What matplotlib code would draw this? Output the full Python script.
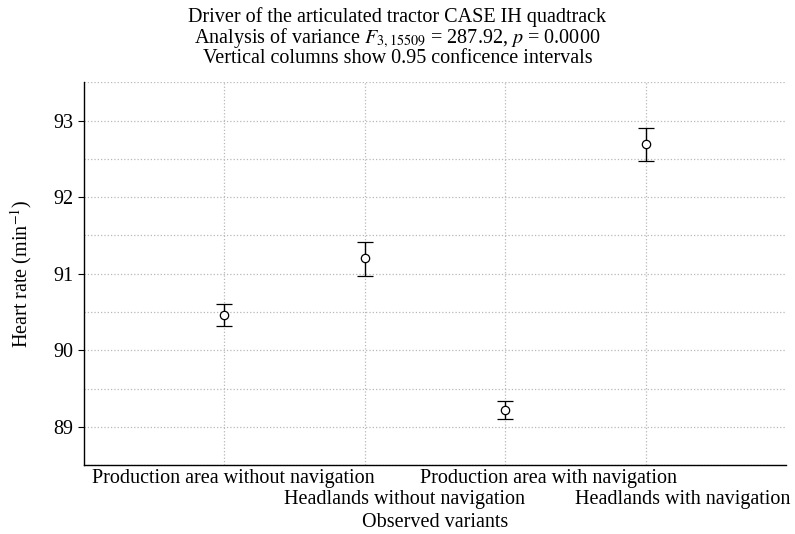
import matplotlib.pyplot as plt
import matplotlib.transforms as mtransforms
import numpy as np

# data
variants = ["Production area without navigation", "Headlands without navigation",
            "Production area with navigation", "Headlands with navigation"]
mean_hr = [90.46, 91.20, 89.22, 92.69]
ci_low = [90.32, 90.97, 89.10, 92.47]
ci_high = [90.60, 91.42, 89.34, 92.90]

plt.rcParams["font.family"] = ["Liberation Serif", "DejaVu Serif"]
plt.rcParams["mathtext.fontset"] = "stix"
plt.rcParams["font.size"] = 14.5

fig = plt.figure(figsize=(7.95, 5.34), dpi=100)
ax = fig.add_axes([0.1057, 0.129, 0.883, 0.717])

x = np.arange(1, len(variants) + 1)
mean_hr = np.array(mean_hr)
err = [mean_hr - np.array(ci_low), np.array(ci_high) - mean_hr]
ax.errorbar(x, mean_hr, yerr=err, fmt="o", color="black", ecolor="black",
            markerfacecolor="white", markersize=6, markeredgewidth=0.9,
            elinewidth=1.0, capsize=6, capthick=1.0, zorder=3)

ax.set_xlim(0, 5)
ax.set_ylim(88.5, 93.5)
ax.set_yticks([89, 90, 91, 92, 93])
ax.set_yticks(np.arange(88.5, 93.6, 0.5), minor=True)
ax.grid(True, which="both", axis="y", color="#b8b8b8", linestyle=":", linewidth=0.9)
ax.set_xticks(x)
ax.set_xticklabels(variants)
ax.grid(True, axis="x", color="#b8b8b8", linestyle=":", linewidth=0.9)
ax.tick_params(axis="y", which="major", direction="out", length=4, width=0.8)
ax.tick_params(axis="y", which="minor", length=0)
ax.tick_params(axis="x", length=0, pad=3)

# staggered category labels like in the original
shifts = [9, 40, 43, 37]
for i, lab in enumerate(ax.get_xticklabels()):
    dy = 0 if i % 2 == 0 else -21
    off = mtransforms.ScaledTranslation(shifts[i] / 100, dy / 100, fig.dpi_scale_trans)
    lab.set_transform(lab.get_transform() + off)

for s in ["top", "right"]:
    ax.spines[s].set_visible(False)
ax.spines["left"].set_linewidth(1.0)
ax.spines["bottom"].set_linewidth(1.0)

ax.set_xlabel("Observed variants")
ax.xaxis.set_label_coords(0.5, -0.124)
ax.set_ylabel(r"Heart rate (min$^{-1}$)", labelpad=14)

fig.text(0.5, 0.968, "Driver of the articulated tractor CASE IH quadtrack", ha="center", va="center")
fig.text(0.5, 0.929, r"Analysis of variance $F_{3,15509}$ = 287.92, $p$ = 0.0000", ha="center", va="center")
fig.text(0.5, 0.891, "Vertical columns show 0.95 conficence intervals", ha="center", va="center")

fig.savefig("out.png", dpi=100)
